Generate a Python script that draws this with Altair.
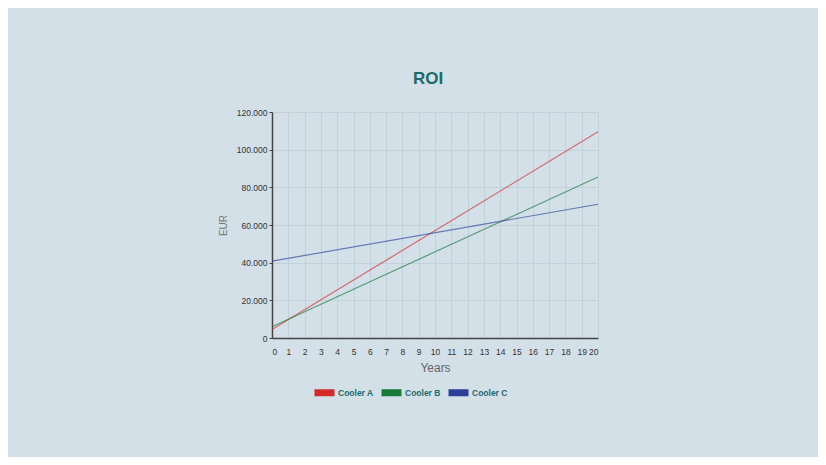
import altair as alt
import pandas as pd

series = ["Cooler A", "Cooler B", "Cooler C"]
years = [0, 20]
values_a = [4500, 109500]
values_b = [6000, 85500]
values_c = [40800, 71000]
colors = ["#d42a2a", "#1a7a3a", "#2a3f99"]
x_ticks = list(range(0, 21))
y_ticks = [0, 20000, 40000, 60000, 80000, 100000, 120000]

rows = []
for name, vals in zip(series, [values_a, values_b, values_c]):
    for yr, v in zip(years, vals):
        rows.append({"Series": name, "Years": yr, "EUR": v})
df = pd.DataFrame(rows)

chart = alt.Chart(df).mark_line(strokeWidth=1.2, opacity=0.65).encode(
    x=alt.X("Years:Q", scale=alt.Scale(domain=[0, 20], nice=False),
            axis=alt.Axis(values=x_ticks, title="Years", format="d")),
    y=alt.Y("EUR:Q", scale=alt.Scale(domain=[0, 120000], nice=False),
            axis=alt.Axis(values=y_ticks, title="EUR",
                          labelExpr="replace(format(datum.value, ','), ',', '.')")),
    color=alt.Color("Series:N",
                    scale=alt.Scale(domain=series, range=colors),
                    legend=alt.Legend(
                        orient="none", legendX=39, legendY=267,
                        direction="horizontal", title=None,
                        symbolType="stroke", symbolOpacity=1,
                        symbolSize=400, symbolStrokeWidth=7,
                        labelFont="Liberation Sans", labelFontSize=8.5,
                        labelFontWeight="bold", labelColor="#1d6b6b",
                        labelOffset=0, columnPadding=-7)),
).properties(
    width=326, height=226,
    title=alt.TitleParams("ROI", fontSize=17, font="Liberation Sans",
                          fontWeight="bold", color="#1d6b68", offset=20, dx=-7),
    autosize=alt.AutoSizeParams(type="none"),
    padding={"left": 264, "top": 104, "right": 220, "bottom": 119},
).configure(background="#d3e0e8").configure_view(stroke=None).configure_axis(
    labelFont="Liberation Sans", titleFont="Liberation Sans",
    labelFontSize=8.5, labelColor="#333333",
    domainColor="#444444", domainWidth=1.5,
    tickColor="#444444", tickSize=4,
    gridColor="#c2d2dc", gridWidth=1,
    titleColor="#777777", titleFontWeight="normal",
).configure_axisX(titleFontSize=12, titleColor="#666666", labelPadding=9, titlePadding=7, ticks=False
).configure_axisY(titleFontSize=10, titlePadding=8, labelPadding=2, ticks=True, tickSize=3)

chart.save("out.html", embed_options={"renderer": "svg", "actions": False})
